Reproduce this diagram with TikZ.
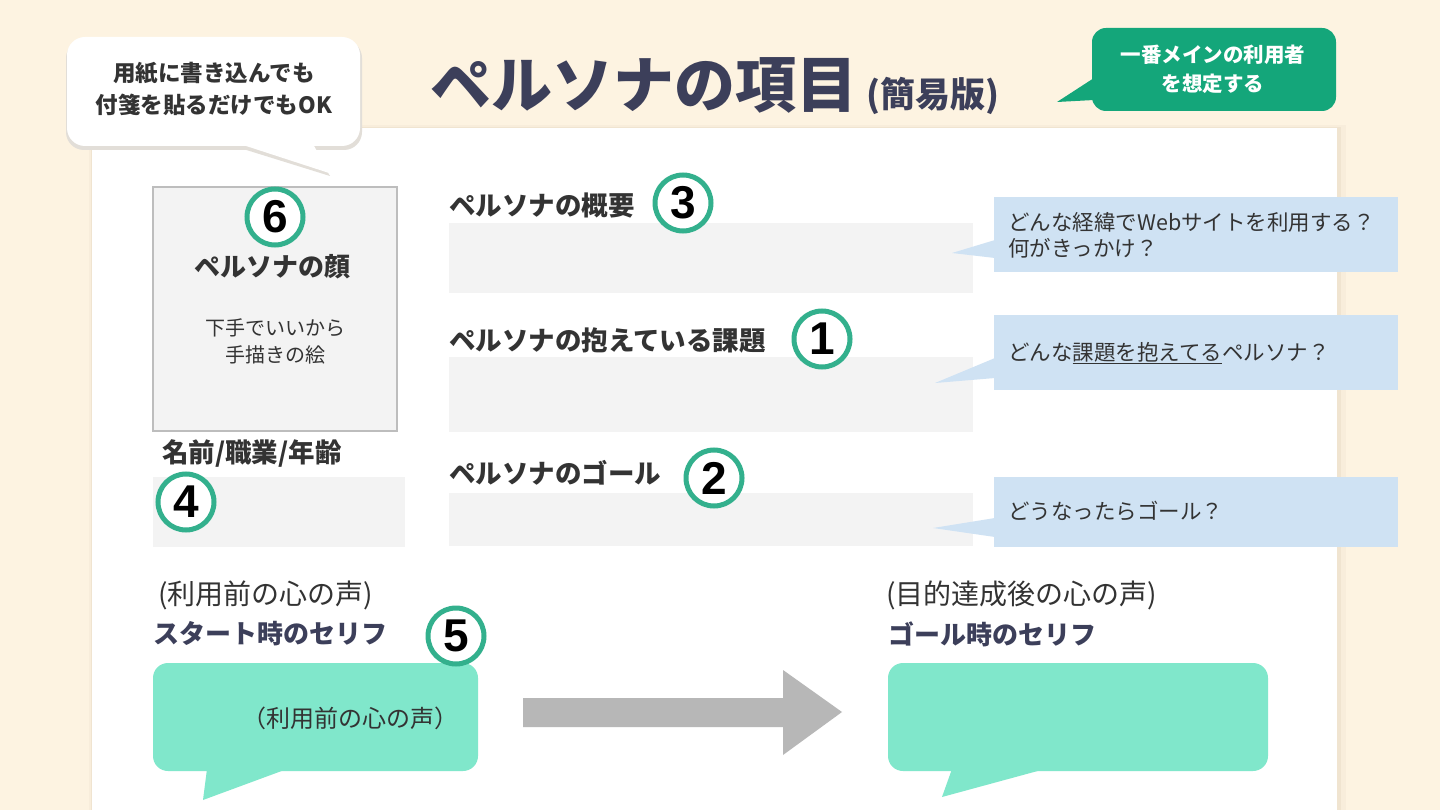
\documentclass[tikz,border=0pt]{standalone}
\usepackage{fontspec}
\setmainfont{Noto Sans CJK JP}
\newfontfamily\numfont{Liberation Sans}
\definecolor{bgc}{HTML}{FDF3E1}
\definecolor{shA}{HTML}{F8EDDB}
\definecolor{shB}{HTML}{F0E4D0}
\definecolor{navy}{HTML}{3C3F5A}
\definecolor{txt}{HTML}{333333}
\definecolor{tealc}{HTML}{33B08D}
\definecolor{greenc}{HTML}{14A67A}
\definecolor{bubc}{HTML}{80E7CB}
\definecolor{bluec}{HTML}{CFE2F3}
\definecolor{boxc}{HTML}{F3F3F3}
\definecolor{boxline}{HTML}{BDBDBD}
\definecolor{arrowc}{HTML}{B7B7B7}
\definecolor{calsh}{HTML}{E2DED8}
\newcommand{\fs}[2]{\fontsize{#1}{#2}\selectfont}
\tikzset{
  numc/.style={circle, draw=tealc, line width=5pt, fill=white, minimum size=56pt, inner sep=0pt, font=\numfont\bfseries\fs{46}{46}, text=black},
  head/.style={anchor=west, inner sep=0pt, font=\bfseries\fs{26.5}{30}, text=txt},
  sub/.style={anchor=west, inner sep=0pt, font=\fs{28}{30}, text=txt},
  serif/.style={anchor=west, inner sep=0pt, font=\bfseries\fs{26}{30}, text=navy},
  bluetxt/.style={anchor=west, inner sep=0pt, font=\fs{21.5}{26}, text=txt, align=left},
  graybox/.style={fill=boxc},
}
\begin{document}
\begin{tikzpicture}[x=1pt,y=-1pt]
\useasboundingbox (0,0) rectangle (1440,810);
\fill[bgc] (0,0) rectangle (1440,810);
% sheet with soft shadow
\fill[shA] (89,125) rectangle (1346,810);
\fill[shB] (91,127) rectangle (1341,810);
\fill[white] (92,128) rectangle (1337,810);

% title
\node[anchor=west, inner sep=0pt, font=\bfseries\fs{61}{64}, text=navy] (title) at (430,85) {ペルソナの項目};
\node[anchor=west, inner sep=0pt, font=\bfseries\fs{35}{38}, text=navy] (titlesub) at (866,96) {(簡易版)};

% white callout (top left)
\fill[calsh, rounded corners=18] (66,40) rectangle (362,150);
\fill[calsh] (240,148) -- (330,176) -- (313,148) -- cycle;
\fill[white, rounded corners=18] (67,37) rectangle (360,146);
\fill[white] (240,144) -- (329,173) -- (313,144) -- cycle;
\node[align=center, inner sep=0pt, font=\bfseries\fs{22.5}{32}, text=txt] (note1) at (214,89) {用紙に書き込んでも\\付箋を貼るだけでもOK};

% green callout (top right)
\fill[greenc, rounded corners=14] (1092,28) rectangle (1336,111);
\fill[greenc] (1094,78) -- (1057,102) -- (1094,100) -- cycle;
\node[align=center, inner sep=0pt, font=\bfseries\fs{20.5}{29}, text=white] (note2) at (1213,69) {一番メインの利用者\\を想定する};

% face box
\fill[boxc] (153,187) rectangle (397,431);
\draw[boxline, line width=1.5pt] (153,187) rectangle (397,431);
\node[numc] (c6) at (275,217) {6};
\node[inner sep=0pt, font=\bfseries\fs{26}{30}, text=txt] (face) at (272,267) {ペルソナの顔};
\node[align=center, inner sep=0pt, font=\fs{20}{27}, text=txt] (facenote) at (275,341) {下手でいいから\\手描きの絵};

% name
\node[head] (namehead) at (162,454) {名前/職業/年齢};
\fill[graybox] (153,477) rectangle (405,547);
\node[numc] (c4) at (186,502) {4};

% overview
\node[head] (h3) at (449,205) {ペルソナの概要};
\fill[graybox] (449,223) rectangle (973,293);
\node[numc] (c3) at (683,203) {3};

% issue
\node[head] (h1) at (449,340) {ペルソナの抱えている課題};
\fill[graybox] (449,357) rectangle (973,432);
\node[numc] (c1) at (822,339) {1};

% goal
\node[head] (h2) at (449,473) {ペルソナのゴール};
\fill[graybox] (449,493) rectangle (973,546);
\node[numc] (c2) at (714,478) {2};

% blue callouts
\fill[bluec] (994,197) rectangle (1398,272);
\fill[bluec] (995,240) -- (952,253) -- (995,258) -- cycle;
\node[bluetxt] (b1) at (1008,235) {どんな経緯でWebサイトを利用する？\\何がきっかけ？};

\fill[bluec] (994,315) rectangle (1398,390);
\fill[bluec] (995,358) -- (935,383) -- (995,378) -- cycle;
\node[bluetxt] (b2) at (1008,353) {どんな\underline{課題を抱えてる}ペルソナ？};

\fill[bluec] (994,477) rectangle (1398,547);
\fill[bluec] (995,518) -- (933,528) -- (995,537) -- cycle;
\node[bluetxt] (b3) at (1008,511) {どうなったらゴール？};

% start speech
\node[sub] (pre1) at (158,595) {(利用前の心の声)};
\node[serif] (start) at (153,634) {スタート時のセリフ};
\fill[bubc, rounded corners=15] (153,663) rectangle (478,771);
\fill[bubc] (207,769) -- (203,800) -- (287,769) -- cycle;
\node[numc] (c5) at (456,636) {5};
\node[inner sep=0pt, font=\fs{24}{28}, text=txt] (bubtxt) at (350,718) {（利用前の心の声）};

% arrow
\fill[arrowc] (523,698) -- (783,698) -- (783,670) -- (842,712) -- (783,755) -- (783,727) -- (523,727) -- cycle;

% goal speech
\node[sub] (post1) at (886,595) {(目的達成後の心の声)};
\node[serif] (goalspeech) at (888,634) {ゴール時のセリフ};
\fill[bubc, rounded corners=15] (888,663) rectangle (1268,771);
\fill[bubc] (952,769) -- (942,797) -- (1045,769) -- cycle;
\end{tikzpicture}
\end{document}
